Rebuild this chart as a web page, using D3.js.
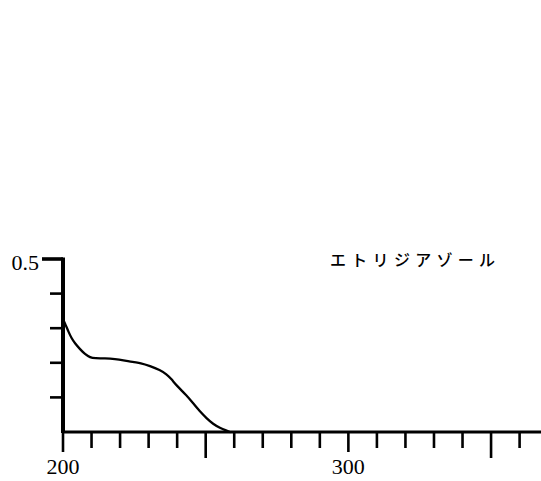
<!DOCTYPE html>
<html>
<head>
<meta charset="utf-8">
<script src="https://cdn.jsdelivr.net/npm/d3@7"></script>
<style>
  html, body { margin: 0; padding: 0; background: #fff; }
  svg { display: block; }
</style>
</head>
<body>
<svg id="chart" width="541" height="481"></svg>
<script>
// UV absorption spectrum of etridiazole
const wavelength = [200.1, 200.7, 201.9, 203.0, 204.2, 206.0, 207.7, 209.5, 211.2, 214.7,
                    218.2, 221.7, 225.2, 227.0, 230.5, 234.0, 236.3, 238.0, 239.8, 243.3,
                    245.6, 248.0, 250.3, 252.6, 255.0, 257.3, 258.5, 367.5];
const absorbance = [0.324, 0.314, 0.290, 0.271, 0.256, 0.239, 0.225, 0.215, 0.213, 0.213,
                    0.211, 0.206, 0.201, 0.200, 0.191, 0.179, 0.167, 0.153, 0.134, 0.106,
                    0.083, 0.059, 0.040, 0.023, 0.012, 0.004, 0.000, 0.000];
const xTicks = d3.range(200, 361, 10);
const xTickLabels = [200, 300];
const yTicks = [0.1, 0.2, 0.3, 0.4, 0.5];
const yTickLabels = [0.5];
const compoundName = "エトリジアゾール";

const svg = d3.select("#chart");
const x = d3.scaleLinear().domain([200, 367.5]).range([63, 541]);
const y = d3.scaleLinear().domain([0, 0.5]).range([432, 259]);

const ink = "#000";
const labelFont = "'Liberation Serif', 'DejaVu Serif', serif";

// spectrum curve (only the part above the baseline is visible)
const trace = wavelength.map((w, i) => [w, absorbance[i]]).filter(d => d[0] <= 260);
svg.append("path")
  .datum(trace)
  .attr("fill", "none")
  .attr("stroke", ink)
  .attr("stroke-width", 2.3)
  .attr("stroke-linejoin", "round")
  .attr("stroke-linecap", "round")
  .attr("d", d3.line().x(d => x(d[0])).y(d => y(d[1])).curve(d3.curveBasis));

// x axis: baseline and downward ticks, longer at 50 nm steps
svg.append("line")
  .attr("x1", x(200) - 1).attr("x2", 541)
  .attr("y1", y(0)).attr("y2", y(0))
  .attr("stroke", ink).attr("stroke-width", 3);

svg.append("g").selectAll("line")
  .data(xTicks)
  .join("line")
  .attr("x1", d => x(d)).attr("x2", d => x(d))
  .attr("y1", y(0))
  .attr("y2", d => y(0) + (d % 100 === 0 ? 20 : d % 50 === 0 ? 26 : 16))
  .attr("stroke", ink).attr("stroke-width", 2.6);

svg.append("g").selectAll("text")
  .data(xTickLabels)
  .join("text")
  .attr("x", d => x(d))
  .attr("y", 474)
  .attr("text-anchor", "middle")
  .attr("font-family", labelFont)
  .attr("font-size", 22)
  .attr("fill", ink)
  .text(d => d);

// y axis: thick vertical with leftward ticks
svg.append("line")
  .attr("x1", x(200)).attr("x2", x(200))
  .attr("y1", y(0.5) - 1.5).attr("y2", y(0) + 1)
  .attr("stroke", ink).attr("stroke-width", 4);

svg.append("g").selectAll("line")
  .data(yTicks)
  .join("line")
  .attr("x1", d => x(200) - (d === 0.5 ? 21 : 13)).attr("x2", x(200))
  .attr("y1", d => y(d)).attr("y2", d => y(d))
  .attr("stroke", ink).attr("stroke-width", d => d === 0.5 ? 3.6 : 2.6);

svg.append("g").selectAll("text")
  .data(yTickLabels)
  .join("text")
  .attr("x", 39)
  .attr("y", d => y(d) + 11)
  .attr("text-anchor", "end")
  .attr("font-family", labelFont)
  .attr("font-size", 22)
  .attr("fill", ink)
  .text(d => d);

// compound name
svg.append("text")
  .attr("x", 330)
  .attr("y", 266)
  .attr("font-family", "'Noto Sans CJK JP', sans-serif")
  .attr("font-size", 16)
  .attr("font-weight", 500)
  .attr("letter-spacing", 5.3)
  .attr("fill", ink)
  .text(compoundName);
</script>
</body>
</html>
